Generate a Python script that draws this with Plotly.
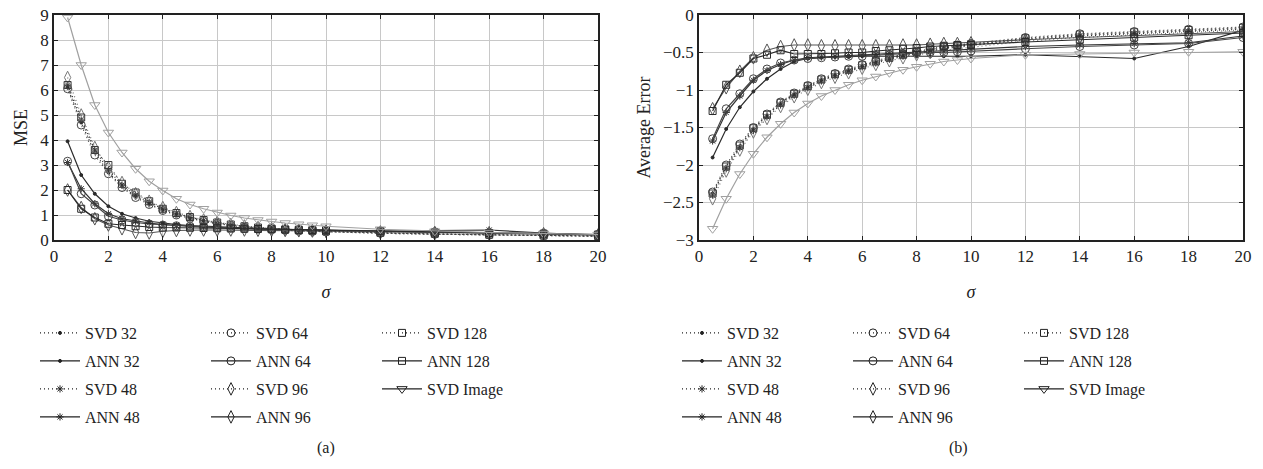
import plotly.graph_objects as go

W, H = 1263, 469

sigma = [0.5, 1, 1.5, 2, 2.5, 3, 3.5, 4, 4.5, 5, 5.5, 6, 6.5, 7, 7.5, 8, 8.5, 9, 9.5, 10, 12, 14, 16, 18, 20]

series_names = ["SVD 32", "ANN 32", "SVD 48", "ANN 48", "SVD 64", "ANN 64",
                "SVD 96", "ANN 96", "SVD 128", "ANN 128", "SVD Image"]

# (a) MSE
mse_svd32 = [6.1, 4.7, 3.5, 2.7, 2.15, 1.75, 1.45, 1.2, 1.02, 0.87, 0.76, 0.66, 0.58, 0.52, 0.47, 0.43, 0.4, 0.37, 0.35, 0.33, 0.27, 0.23, 0.2, 0.17, 0.15]
mse_ann32 = [3.95, 2.6, 1.85, 1.35, 1.05, 0.88, 0.75, 0.68, 0.62, 0.58, 0.55, 0.52, 0.5, 0.48, 0.46, 0.44, 0.42, 0.41, 0.4, 0.39, 0.35, 0.32, 0.3, 0.26, 0.2]
mse_svd48 = [6.2, 4.8, 3.6, 2.8, 2.2, 1.8, 1.5, 1.25, 1.05, 0.9, 0.78, 0.68, 0.6, 0.54, 0.49, 0.45, 0.41, 0.38, 0.36, 0.34, 0.28, 0.24, 0.21, 0.18, 0.16]
mse_ann48 = [3.1, 2.05, 1.45, 1.05, 0.85, 0.75, 0.68, 0.62, 0.58, 0.55, 0.52, 0.5, 0.48, 0.46, 0.44, 0.42, 0.41, 0.4, 0.39, 0.38, 0.34, 0.38, 0.4, 0.28, 0.2]
mse_svd64 = [6.05, 4.6, 3.4, 2.65, 2.1, 1.7, 1.42, 1.18, 1.0, 0.86, 0.74, 0.65, 0.57, 0.51, 0.46, 0.42, 0.39, 0.36, 0.34, 0.32, 0.27, 0.23, 0.2, 0.17, 0.15]
mse_ann64 = [3.15, 1.85, 1.4, 0.95, 0.8, 0.7, 0.64, 0.6, 0.57, 0.55, 0.53, 0.5, 0.48, 0.46, 0.45, 0.43, 0.42, 0.41, 0.4, 0.39, 0.36, 0.33, 0.3, 0.27, 0.22]
mse_svd96 = [6.5, 5.0, 3.7, 2.9, 2.3, 1.85, 1.55, 1.3, 1.1, 0.94, 0.8, 0.7, 0.62, 0.56, 0.5, 0.46, 0.42, 0.39, 0.37, 0.35, 0.29, 0.25, 0.22, 0.19, 0.17]
mse_ann96 = [2.0, 1.3, 0.85, 0.6, 0.45, 0.3, 0.28, 0.35, 0.38, 0.4, 0.4, 0.4, 0.4, 0.4, 0.39, 0.39, 0.38, 0.37, 0.36, 0.35, 0.32, 0.3, 0.28, 0.25, 0.2]
mse_svd128 = [6.2, 4.9, 3.6, 3.0, 2.25, 1.9, 1.55, 1.25, 1.08, 0.92, 0.8, 0.7, 0.62, 0.55, 0.5, 0.46, 0.42, 0.39, 0.37, 0.35, 0.29, 0.25, 0.21, 0.18, 0.16]
mse_ann128 = [2.0, 1.25, 0.9, 0.65, 0.6, 0.55, 0.52, 0.5, 0.5, 0.49, 0.48, 0.47, 0.46, 0.45, 0.44, 0.43, 0.42, 0.41, 0.4, 0.39, 0.35, 0.3, 0.28, 0.25, 0.22]
mse_svd_image = [8.9, 7.0, 5.4, 4.3, 3.5, 2.85, 2.35, 1.98, 1.65, 1.42, 1.25, 1.1, 0.98, 0.88, 0.8, 0.74, 0.68, 0.63, 0.59, 0.55, 0.43, 0.35, 0.3, 0.26, 0.22]

# (b) Average error
ae_svd32 = [-2.38, -2.03, -1.75, -1.52, -1.34, -1.18, -1.06, -0.96, -0.87, -0.8, -0.74, -0.68, -0.63, -0.58, -0.54, -0.5, -0.47, -0.44, -0.42, -0.4, -0.32, -0.27, -0.24, -0.21, -0.18]
ae_ann32 = [-1.9, -1.52, -1.23, -1.02, -0.85, -0.72, -0.62, -0.58, -0.57, -0.56, -0.56, -0.55, -0.55, -0.55, -0.55, -0.55, -0.55, -0.55, -0.55, -0.55, -0.53, -0.55, -0.58, -0.42, -0.2]
ae_svd48 = [-2.4, -2.05, -1.77, -1.54, -1.36, -1.2, -1.07, -0.97, -0.88, -0.81, -0.75, -0.69, -0.64, -0.59, -0.55, -0.51, -0.48, -0.45, -0.43, -0.41, -0.33, -0.28, -0.25, -0.22, -0.19]
ae_ann48 = [-1.68, -1.3, -1.08, -0.87, -0.74, -0.66, -0.6, -0.57, -0.56, -0.55, -0.54, -0.53, -0.52, -0.51, -0.5, -0.5, -0.49, -0.48, -0.47, -0.46, -0.42, -0.4, -0.38, -0.37, -0.28]
ae_svd64 = [-2.36, -2.0, -1.72, -1.5, -1.32, -1.16, -1.04, -0.94, -0.85, -0.78, -0.72, -0.66, -0.61, -0.56, -0.52, -0.48, -0.45, -0.42, -0.4, -0.38, -0.3, -0.25, -0.22, -0.19, -0.16]
ae_ann64 = [-1.65, -1.25, -1.05, -0.85, -0.72, -0.64, -0.6, -0.58, -0.57, -0.56, -0.55, -0.55, -0.54, -0.53, -0.52, -0.51, -0.5, -0.5, -0.49, -0.48, -0.45, -0.42, -0.4, -0.38, -0.3]
ae_svd96 = [-2.45, -2.08, -1.8, -1.56, -1.38, -1.22, -1.09, -0.99, -0.9, -0.83, -0.77, -0.71, -0.66, -0.61, -0.57, -0.53, -0.5, -0.47, -0.45, -0.43, -0.35, -0.3, -0.27, -0.24, -0.2]
ae_ann96 = [-1.25, -0.97, -0.75, -0.57, -0.47, -0.42, -0.4, -0.4, -0.41, -0.41, -0.41, -0.41, -0.41, -0.41, -0.4, -0.4, -0.39, -0.38, -0.38, -0.37, -0.33, -0.3, -0.28, -0.25, -0.22]
ae_svd128 = [-2.38, -2.02, -1.74, -1.51, -1.33, -1.17, -1.05, -0.95, -0.86, -0.79, -0.73, -0.67, -0.62, -0.57, -0.53, -0.49, -0.46, -0.43, -0.41, -0.39, -0.31, -0.26, -0.23, -0.2, -0.17]
ae_ann128 = [-1.28, -0.93, -0.77, -0.58, -0.53, -0.47, -0.52, -0.52, -0.52, -0.51, -0.5, -0.5, -0.48, -0.47, -0.45, -0.44, -0.42, -0.41, -0.4, -0.4, -0.36, -0.33, -0.3, -0.27, -0.24]
ae_svd_image = [-2.85, -2.45, -2.12, -1.85, -1.63, -1.45, -1.3, -1.18, -1.08, -1.0, -0.93, -0.87, -0.82, -0.77, -0.73, -0.69, -0.65, -0.62, -0.6, -0.58, -0.53, -0.52, -0.5, -0.49, -0.49]

mse_values = [mse_svd32, mse_ann32, mse_svd48, mse_ann48, mse_svd64, mse_ann64,
              mse_svd96, mse_ann96, mse_svd128, mse_ann128, mse_svd_image]
ae_values = [ae_svd32, ae_ann32, ae_svd48, ae_ann48, ae_svd64, ae_ann64,
             ae_svd96, ae_ann96, ae_svd128, ae_ann128, ae_svd_image]

# styles
DOT = "1px,3px"
symbols = ["circle", "circle", "asterisk-open", "asterisk-open", "circle-open", "circle-open",
           "diamond-tall-open", "diamond-tall-open", "square-open", "square-open", "triangle-down-open"]
sizes = [3, 3, 6, 6, 8, 8, 9, 9, 7, 7, 9]
dashes = [DOT, "solid", DOT, "solid", DOT, "solid", DOT, "solid", DOT, "solid", "solid"]
colors = ["#2a2a2a", "#2a2a2a", "#333333", "#333333", "#444444", "#444444",
          "#777777", "#555555", "#3a3a3a", "#2a2a2a", "#a0a0a0"]
# legend laid out as 4 rows x 3 columns, filled column by column
legend_rows = [[0, 4, 8], [1, 5, 9], [2, 6, 10], [3, 7]]

FONT = "Liberation Serif"

fig = go.Figure()
# data traces
for k, name in enumerate(series_names):
    for vals, xa, ya in ((mse_values[k], "x", "y"), (ae_values[k], "x2", "y2")):
        fig.add_trace(go.Scatter(
            x=sigma, y=vals, name=name, mode="lines+markers",
            xaxis=xa, yaxis=ya, showlegend=False,
            line=dict(color=colors[k], width=1.2, dash=dashes[k]),
            marker=dict(symbol=symbols[k], size=sizes[k], color=colors[k],
                        line=dict(color=colors[k], width=1)),
        ))

# legend entries: one horizontal legend per row and per panel
row_y = [333, 361, 389, 417]
legend_layouts = {}
lid = 1
for panel, (xa, ya, lx, suffix) in enumerate((("x", "y", 35, ""), ("x2", "y2", 677, " "))):
    for r, row in enumerate(legend_rows):
        key = "legend" if lid == 1 else f"legend{lid}"
        for k in row:
            fig.add_trace(go.Scatter(
                x=[None], y=[None], name=series_names[k] + suffix, mode="lines+markers",
                xaxis=xa, yaxis=ya, legend=key, showlegend=True,
                legendgroup=f"g{panel}_{k}",
                line=dict(color="#222222", width=1.2, dash=dashes[k]),
                marker=dict(symbol=symbols[k], size=sizes[k], color="#222222",
                            line=dict(color="#222222", width=1)),
            ))
        legend_layouts[key] = dict(
            orientation="h", xanchor="left", yanchor="middle",
            x=lx / W, y=1 - row_y[r] / H,
            entrywidth=116, entrywidthmode="pixels", itemwidth=40,
            font=dict(family=FONT, size=16, color="#222222"),
            bgcolor="rgba(0,0,0,0)", traceorder="normal",
        )
        lid += 1

x0a, x1a = 54 / W, 598 / W
x0b, x1b = 699 / W, 1243 / W
yb, yt = 1 - 240 / H, 1 - 15 / H

axis_common = dict(
    showline=True, linecolor="#222222", linewidth=1.5, mirror="allticks",
    ticks="inside", ticklen=4, tickcolor="#222222", automargin=False,
    showgrid=True, gridcolor="#c8c8c8", gridwidth=1, zeroline=False,
    tickfont=dict(family=FONT, size=17, color="#222222"),
)

fig.update_layout(
    template="none",
    width=W, height=H,
    margin=dict(l=0, r=0, t=0, b=0, autoexpand=False),
    paper_bgcolor="white", plot_bgcolor="white",
    font=dict(family=FONT, size=16, color="#222222"),
    showlegend=True,
    xaxis=dict(domain=[x0a, x1a], range=[0, 20], dtick=2, anchor="y",
               title=dict(text="<i>σ</i>", standoff=20, font=dict(family=FONT, size=18)),
               **axis_common),
    yaxis=dict(domain=[yb, yt], range=[0, 9], dtick=1, anchor="x",
               title=dict(text="MSE", standoff=8, font=dict(family=FONT, size=18)),
               **axis_common),
    xaxis2=dict(domain=[x0b, x1b], range=[0, 20], dtick=2, anchor="y2",
                title=dict(text="<i>σ</i>", standoff=20, font=dict(family=FONT, size=18)),
                **axis_common),
    yaxis2=dict(domain=[yb, yt], range=[-3, 0], dtick=0.5, anchor="x2",
                title=dict(text="Average Error", standoff=8, font=dict(family=FONT, size=18)),
                **axis_common),
    annotations=[
        dict(text="(a)", x=315 / W, y=1 - 448 / H, xref="paper", yref="paper",
             yanchor="middle", showarrow=False, font=dict(family=FONT, size=16)),
        dict(text="(b)", x=970 / W, y=1 - 448 / H, xref="paper", yref="paper",
             yanchor="middle", showarrow=False, font=dict(family=FONT, size=16)),
    ],
    **legend_layouts,
)

fig.write_html("out.html")
